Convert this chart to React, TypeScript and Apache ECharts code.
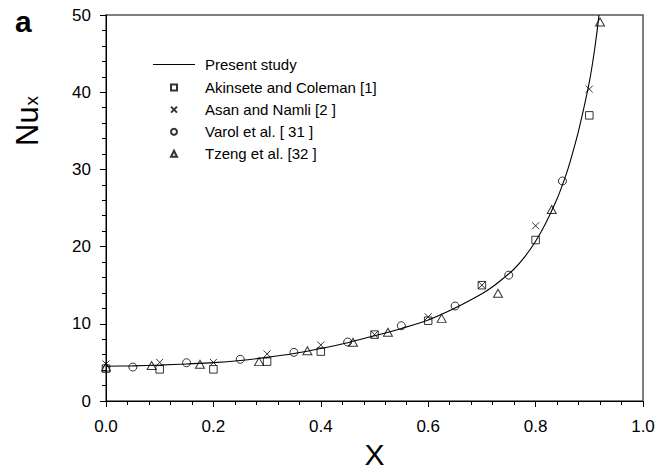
import React, { useEffect, useRef } from "react";
import * as echarts from "echarts";

const FONT = 'Arial, "Liberation Sans", Helvetica, sans-serif';

// Present study curve (X, Nu_x)
const curveX = [0, 0.05, 0.1, 0.15, 0.2, 0.25, 0.3, 0.35, 0.4, 0.45, 0.5, 0.55, 0.6, 0.65, 0.7, 0.72, 0.74, 0.76, 0.78, 0.8, 0.82, 0.84, 0.85, 0.86, 0.87, 0.88, 0.89, 0.9, 0.905, 0.91, 0.915, 0.918];
const curveNu = [4.5, 4.55, 4.65, 4.8, 4.97, 5.25, 5.65, 6.15, 6.8, 7.55, 8.45, 9.4, 10.5, 12.05, 13.9, 14.8, 15.9, 17.1, 18.7, 20.7, 23.2, 26.2, 28.0, 30.0, 32.4, 35.0, 38.0, 41.3, 43.3, 45.6, 48.2, 50.0];

// Akinsete and Coleman [1]
const akX = [0, 0.1, 0.2, 0.3, 0.4, 0.5, 0.6, 0.7, 0.8, 0.9];
const akNu = [4.2, 4.1, 4.1, 5.1, 6.4, 8.6, 10.4, 15.0, 20.85, 37.0];

// Asan and Namli [2]
const asX = [0, 0.1, 0.2, 0.3, 0.4, 0.5, 0.6, 0.7, 0.8, 0.9];
const asNu = [4.8, 5.0, 5.0, 6.1, 7.25, 8.6, 10.9, 15.0, 22.7, 40.4];

// Varol et al. [31]
const vaX = [0.05, 0.15, 0.25, 0.35, 0.45, 0.55, 0.65, 0.75, 0.85];
const vaNu = [4.4, 4.96, 5.4, 6.3, 7.64, 9.75, 12.3, 16.3, 28.5];

// Tzeng et al. [32]
const tzX = [0, 0.085, 0.175, 0.285, 0.375, 0.46, 0.525, 0.625, 0.73, 0.83, 0.92];
const tzNu = [4.4, 4.6, 4.75, 5.1, 6.5, 7.6, 8.9, 10.7, 13.95, 24.8, 49.1];

const seriesNames = [
  "Present study",
  "Akinsete and Coleman [1]",
  "Asan and Namli [2 ]",
  "Varol et al. [ 31 ]",
  "Tzeng et al. [32 ]",
];

const zip = (xs: number[], ys: number[]) => xs.map((x, i) => [x, ys[i]]);

const openStyle = { color: "rgba(0,0,0,0)", borderColor: "#000", borderWidth: 1 };

export default function App() {
  const ref = useRef<HTMLDivElement>(null);
  useEffect(() => {
    if (!ref.current) return;
    const chart = echarts.init(ref.current, null, { renderer: "svg" });
    chart.setOption({
      animation: false,
      backgroundColor: "#fff",
      textStyle: { fontFamily: FONT },
      grid: {
        left: 106,
        right: 27,
        top: 15,
        bottom: 69,
        containLabel: false,
        outerBoundsMode: "none",
        show: true,
        borderColor: "#555",
        borderWidth: 1.5,
      },
      legend: [
        {
          data: [{ name: seriesNames[0], icon: "rect" }],
          left: 153,
          top: 57,
          padding: 0,
          orient: "vertical",
          itemWidth: 42,
          itemHeight: 1.2,
          itemStyle: { color: "#000", borderWidth: 0 },
          textStyle: { fontSize: 15, color: "#000", fontFamily: FONT, lineHeight: 15, padding: [0, 0, 0, 5] },
          selectedMode: false,
        },
        {
          data: seriesNames.slice(1),
          left: 170,
          top: 80,
          padding: 0,
          orient: "vertical",
          itemWidth: 6,
          itemHeight: 6,
          itemGap: 7.1,
          textStyle: { fontSize: 15, color: "#000", fontFamily: FONT, padding: [0, 0, 0, 23], lineHeight: 15 },
          selectedMode: false,
        },
      ],
      xAxis: {
        type: "value",
        min: 0,
        max: 1,
        interval: 0.2,
        name: "X",
        nameLocation: "middle",
        nameGap: 37,
        nameTextStyle: { fontSize: 30, color: "#000", fontFamily: FONT, lineHeight: 30 },
        axisLine: { lineStyle: { color: "#000", width: 1 } },
        axisTick: { show: true, inside: false, length: 6, lineStyle: { color: "#000" } },
        minorTick: { show: true, splitNumber: 5, length: 4, lineStyle: { color: "#000" } },
        axisLabel: {
          fontSize: 17,
          color: "#000",
          margin: 17,
          fontFamily: FONT,
          formatter: (v: number) => v.toFixed(1),
        },
        splitLine: { show: false },
      },
      yAxis: {
        type: "value",
        min: 0,
        max: 50,
        interval: 10,
        axisLine: { show: true, lineStyle: { color: "#000", width: 1 } },
        axisTick: { show: true, inside: false, length: 6, lineStyle: { color: "#000" } },
        minorTick: { show: true, splitNumber: 5, length: 4, lineStyle: { color: "#000" } },
        axisLabel: { fontSize: 17, color: "#000", margin: 15, fontFamily: FONT },
        splitLine: { show: false },
      },
      graphic: [
        {
          type: "text",
          left: 15,
          top: 6,
          style: { text: "a", font: `bold 30px ${FONT}`, fill: "#000" },
        },
        {
          type: "text",
          x: 12,
          y: 146,
          rotation: Math.PI / 2,
          style: {
            text: "{n|Nu}{s|x}",
            fill: "#000",
            rich: {
              n: { fontSize: 31, fontFamily: FONT, fill: "#000" },
              s: { fontSize: 19, fontFamily: FONT, fill: "#000", padding: [8, 0, 0, 1] },
            },
          },
        },
      ],
      series: [
        {
          name: seriesNames[0],
          type: "line",
          data: zip(curveX, curveNu),
          smooth: 0.3,
          symbol: "none",
          itemStyle: { color: "#000" },
          lineStyle: { color: "#000", width: 1.1 },
          z: 1,
        },
        {
          name: seriesNames[1],
          type: "scatter",
          data: zip(akX, akNu),
          symbol: "rect",
          symbolSize: 7.5,
          itemStyle: openStyle,
          z: 3,
        },
        {
          name: seriesNames[2],
          type: "scatter",
          data: zip(asX, asNu),
          symbol: "path://M0,0L10,10M10,0L0,10",
          symbolSize: 7,
          itemStyle: openStyle,
          z: 4,
        },
        {
          name: seriesNames[3],
          type: "scatter",
          data: zip(vaX, vaNu),
          symbol: "circle",
          symbolSize: 8,
          itemStyle: openStyle,
          z: 3,
        },
        {
          name: seriesNames[4],
          type: "scatter",
          data: zip(tzX, tzNu),
          symbol: "triangle",
          symbolSize: [9, 8],
          itemStyle: openStyle,
          z: 3,
        },
      ],
    });
    return () => chart.dispose();
  }, []);
  return (
    <div
      ref={ref}
      style={{ position: "fixed", left: 0, top: 0, width: 670, height: 470 }}
    />
  );
}
